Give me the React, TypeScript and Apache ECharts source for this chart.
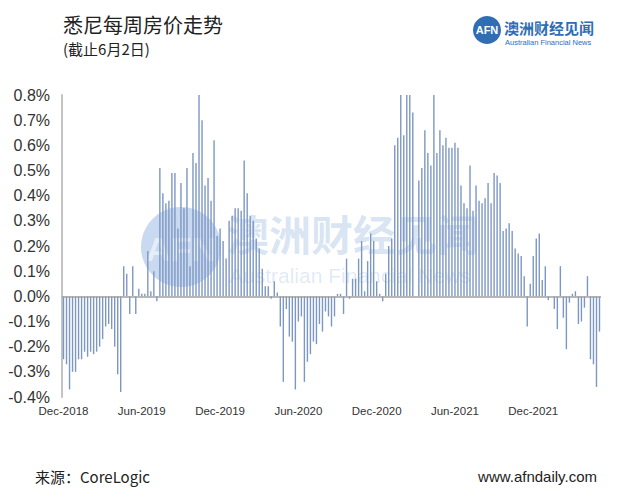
import React, { useEffect, useRef } from "react";
import * as echarts from "echarts";

// Weekly change in Sydney home values (%), Dec-2018 .. early Jun-2022
const seg1 = [-0.25, -0.27, -0.37, -0.30, -0.30, -0.25, -0.25, -0.22, -0.24, -0.22, -0.23, -0.22, -0.20, -0.17, -0.12, -0.11, -0.13, -0.20, -0.31, -0.38, 0.12, 0.09, -0.07, 0.12, -0.07, 0.03, 0.01, 0.01, 0.18];
const seg2 = [0.02, 0.10, -0.02, 0.51, 0.41, 0.37, 0.38, 0.49, 0.49, 0.27, 0.45, 0.35, 0.51, 0.12, 0.57, 0.53, 0.80, 0.70, 0.44, 0.47, 0.38, 0.62, 0.24, 0.27, 0.22, 0.15, 0.30, 0.32, 0.35, 0.35];
const seg3 = [0.34, 0.54, 0.41, 0.32, 0.30, 0.23, 0.19, 0.11, 0.04, 0.04, -0.01, 0.06, 0.015, -0.12, -0.34, -0.05, -0.16, -0.18, -0.37, -0.10, -0.08, -0.34, -0.26, -0.23, -0.18, -0.19, -0.11, -0.14, -0.06, -0.08];
const seg4 = [-0.12, -0.08, 0.01, 0.01, -0.07, 0.15, -0.01, 0.07, 0.07, 0.15, 0.22, 0.02, 0.14, 0.25, 0.22, 0.06, 0.01, -0.02, 0.09, 0.20, 0.23, 0.60, 0.63, 0.80, 0.64, 0.80, 0.80, 0.73, 0, 0.46];
const seg5 = [0.51, 0.66, 0.57, 0.52, 0.80, 0.57, 0.66, 0.60, 0.63, 0.59, 0.59, 0.61, 0.59, 0.44, 0.37, 0.35, 0.52, 0.34, 0.44, 0.38, 0.37, 0.39, 0.45, 0.37, 0.49, 0.48, 0.45, 0.26, 0.27, 0.29];
const seg6 = [0.26, 0.19, 0.17, 0.16, 0.08, -0.12, 0.05, 0.16, 0.23, 0.25, 0.065, 0.12, -0.015, 0, -0.05, -0.13, 0.12, -0.085, -0.21, -0.025, 0.01, 0.02, -0.11, -0.10, -0.045, 0.08, -0.25, -0.27, -0.36, -0.14];

const values = [...seg1, ...seg2, ...seg3, ...seg4, ...seg5, ...seg6];

const tickLabels = ["Dec-2018", "Jun-2019", "Dec-2019", "Jun-2020", "Dec-2020", "Jun-2021", "Dec-2021"];
const tickStep = 26; // weeks between labels

const categories = values.map((_, i) => {
  const d = new Date(Date.UTC(2018, 11, 2 + 7 * i));
  return d.toISOString().slice(0, 10);
});

const BLUE = "#2f6db5";
const WM = "rgba(60,120,200,";

export default function App() {
  const ref = useRef<HTMLDivElement>(null);
  useEffect(() => {
    if (!ref.current) return;
    const chart = echarts.init(ref.current, undefined, { renderer: "svg" });
    chart.setOption({
      animation: false,
      backgroundColor: "#ffffff",
      grid: { left: 62, right: 16, top: 95, bottom: 104, containLabel: false },
      xAxis: {
        type: "category",
        data: categories,
        boundaryGap: true,
        axisLine: { show: false, onZero: false },
        axisTick: { show: false },
        splitLine: { show: false },
        axisLabel: {
          interval: (i: number) => i % tickStep === 0 && i / tickStep < tickLabels.length,
          formatter: (_v: string, i: number) => tickLabels[i / tickStep] ?? "",
          fontFamily: '"Liberation Sans Narrow", "Liberation Sans", Arial, sans-serif',
          fontSize: 11.5,
          color: "#333",
          margin: 8,
        },
      },
      yAxis: {
        type: "value",
        min: -0.4,
        max: 0.8,
        interval: 0.1,
        axisLine: { show: true, lineStyle: { color: "#c4c4c4", width: 2 } },
        axisTick: { show: false },
        splitLine: { show: false },
        axisLabel: {
          formatter: (v: number) => v.toFixed(1) + "%",
          fontFamily: '"Liberation Sans", Arial, sans-serif',
          fontSize: 16,
          color: "#333",
          margin: 12,
        },
      },
      series: [
        {
          type: "bar",
          data: values,
          barWidth: 1.4,
          itemStyle: { color: "#7d97c3" },
          markLine: {
            silent: true,
            symbol: "none",
            label: { show: false },
            lineStyle: { color: "#a0a0a0", type: "solid", width: 1.5 },
            data: [{ yAxis: 0 }],
          },
        },
      ],
      graphic: [
        {
          type: "text",
          left: 63,
          top: 14,
          style: { text: "悉尼每周房价走势", font: '20px "Noto Sans CJK SC", sans-serif', fill: "#222" },
        },
        {
          type: "text",
          left: 63,
          top: 41,
          style: { text: "(截止6月2日)", font: '15px "Noto Sans CJK SC", sans-serif', fill: "#222" },
        },
        // top-right logo
        { type: "circle", shape: { cx: 487, cy: 30, r: 14 }, style: { fill: BLUE } },
        {
          type: "text",
          x: 487,
          y: 30,
          style: { text: "AFN", font: 'bold 11px "Liberation Sans", Arial', fill: "#fff", align: "center", verticalAlign: "middle" },
        },
        {
          type: "text",
          x: 504,
          y: 27,
          style: { text: "澳洲财经见闻", font: 'bold 15px "Noto Sans CJK SC", sans-serif', fill: BLUE, verticalAlign: "middle" },
        },
        {
          type: "text",
          x: 505,
          y: 42,
          style: { text: "Australian Financial News", font: '7.5px "Liberation Sans", Arial', fill: BLUE, verticalAlign: "middle" },
        },
        // watermark
        {
          type: "group",
          z: 100,
          silent: true,
          children: [
            { type: "circle", shape: { cx: 181, cy: 247, r: 40 }, style: { fill: WM + "0.28)" } },
            {
              type: "text",
              x: 181,
              y: 249,
              style: { text: "AFN", font: 'bold 34px "Liberation Sans", Arial', fill: "rgba(255,255,255,0.55)", align: "center", verticalAlign: "middle" },
            },
            {
              type: "text",
              x: 227,
              y: 232,
              style: { text: "澳洲财经见闻", font: 'bold 42px "Noto Sans CJK SC", sans-serif', fill: WM + "0.2)", verticalAlign: "middle" },
            },
            {
              type: "text",
              x: 229,
              y: 275,
              style: { text: "Australian Financial News", font: '21px "Liberation Sans", Arial', fill: WM + "0.16)", verticalAlign: "middle" },
            },
          ],
        },
        // footer
        {
          type: "text",
          x: 35,
          y: 476,
          style: { text: "来源：CoreLogic", font: '15px "Noto Sans CJK SC", "Liberation Sans", sans-serif', fill: "#222", verticalAlign: "middle" },
        },
        {
          type: "text",
          x: 597,
          y: 476,
          style: { text: "www.afndaily.com", font: '15px "Liberation Sans", Arial', fill: "#222", align: "right", verticalAlign: "middle" },
        },
      ],
    });
    return () => chart.dispose();
  }, []);
  return <div ref={ref} style={{ width: 617, height: 501, position: "absolute", left: 0, top: 0 }} />;
}
